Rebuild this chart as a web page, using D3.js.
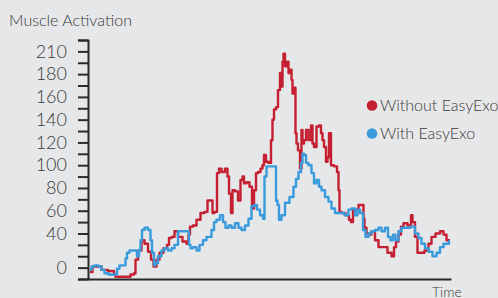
<!DOCTYPE html>
<html>
<head>
<meta charset="utf-8">
<script src="https://cdn.jsdelivr.net/npm/d3@7"></script>
<style>
    html, body { margin: 0; padding: 0; background: #e6e7e9; }
    svg { display: block; font-family: Lato, "Open Sans", sans-serif; font-weight: 300; }
</style>
</head>
<body>
<svg id="chart" width="498" height="298"></svg>
<script>
// Series: time (arbitrary units) and muscle activation
const redTime = [2, 7, 12, 15, 25, 27, 28, 40, 45, 47, 48, 52, 55, 58, 62, 64, 67, 70, 73, 78, 80, 82, 85, 88, 92, 97, 100, 101, 103, 107, 110, 115, 118, 121, 124, 125, 128, 130, 132, 135, 139, 140, 142, 144, 145, 149, 151, 154, 155, 157, 160, 163, 165, 167, 169, 171, 174, 175, 177, 179, 182, 184, 185, 187, 189, 191, 193, 194, 195, 196, 198, 200, 201, 203, 204, 205, 207, 208, 209, 211, 213, 214, 215, 217, 219, 222, 224, 225, 227, 230, 232, 234, 235, 237, 239, 240, 242, 244, 248, 250, 251, 252, 255, 260, 262, 264, 266, 269, 272, 275, 276, 277, 280, 282, 285, 289, 292, 297, 302, 305, 307, 309, 312, 314, 317, 322, 324, 325, 329, 330, 334, 339, 342, 345, 350, 354, 357, 360, 362];
const redValues = [6, 11, 11, 8, 7, 4, 2, 2, 4, 5, 17, 25, 34, 31, 24, 17, 11, 17, 23, 27, 30, 36, 37, 42, 37, 33, 31, 39, 46, 47, 52, 58, 59, 69, 69, 58, 59, 93, 97, 94, 97, 90, 75, 58, 78, 77, 69, 87, 90, 84, 85, 81, 62, 78, 93, 94, 97, 100, 109, 103, 102, 122, 140, 149, 151, 166, 181, 169, 191, 198, 187, 191, 181, 184, 175, 163, 168, 128, 119, 113, 97, 131, 119, 122, 131, 122, 135, 119, 116, 134, 135, 128, 122, 116, 103, 107, 128, 100, 99, 94, 78, 59, 58, 56, 52, 50, 61, 61, 65, 65, 53, 45, 40, 39, 42, 34, 28, 28, 23, 20, 28, 33, 39, 46, 49, 47, 56, 50, 37, 23, 23, 25, 31, 37, 40, 42, 39, 34, 34];

const blueTime = [2, 5, 8, 12, 15, 18, 23, 28, 30, 33, 37, 38, 40, 43, 48, 50, 52, 53, 55, 58, 62, 63, 65, 67, 68, 72, 75, 78, 82, 85, 88, 92, 100, 102, 103, 107, 110, 113, 117, 120, 122, 125, 127, 130, 134, 136, 139, 142, 145, 149, 152, 155, 159, 162, 165, 168, 170, 174, 176, 177, 180, 184, 187, 189, 190, 192, 195, 199, 204, 207, 209, 212, 214, 215, 217, 219, 222, 225, 227, 230, 232, 235, 239, 242, 245, 249, 254, 259, 262, 265, 269, 270, 274, 276, 279, 282, 285, 289, 292, 295, 299, 301, 304, 306, 309, 312, 315, 320, 325, 329, 332, 335, 339, 342, 347, 350, 354, 357, 360, 362];
const blueValues = [8, 11, 12, 11, 8, 5, 4, 4, 9, 12, 12, 18, 23, 25, 25, 20, 25, 34, 43, 45, 43, 34, 23, 12, 14, 20, 25, 27, 25, 27, 30, 42, 42, 30, 27, 28, 25, 30, 34, 37, 37, 43, 50, 52, 56, 50, 45, 47, 45, 49, 45, 43, 47, 53, 64, 65, 61, 56, 53, 90, 99, 99, 99, 69, 65, 52, 56, 67, 72, 81, 88, 94, 102, 110, 109, 102, 100, 93, 84, 87, 81, 78, 72, 68, 62, 58, 58, 56, 61, 62, 56, 61, 58, 43, 37, 40, 42, 43, 45, 42, 45, 37, 34, 39, 34, 42, 45, 45, 46, 40, 36, 31, 27, 24, 20, 23, 28, 31, 31, 33];

// Y axis: a tick every 10 units, labels as printed on the original
const yTickValues = [10, 40, 60, 80, 100, 120, 140, 160, 180, 200];
const yTickLabels = ["0", "40", "60", "80", "100", "120", "140", "160", "180", "210"];

const seriesNames = ["Without EasyExo", "With EasyExo"];
const seriesColors = ["#c42032", "#3a9bdc"];

const svg = d3.select("#chart");

const x = d3.scaleLinear().domain([0, 363]).range([88, 451]);
const y = d3.scaleLinear().domain([0, 210]).range([279, 40]);

const labelMap = new Map(yTickValues.map((v, i) => [v, yTickLabels[i]]));

// Y axis with minor ticks
const yAxis = d3.axisLeft(y)
    .tickValues(d3.range(0, 211, 10))
    .tickSize(10)
    .tickSizeOuter(10)
    .tickPadding(11)
    .tickFormat(d => labelMap.get(d) || "");

const gy = svg.append("g")
    .attr("transform", "translate(88,0)")
    .call(yAxis);
gy.select(".domain").attr("stroke", "#2a2a2a").attr("stroke-width", 2);
gy.selectAll(".tick line").attr("stroke", "#2a2a2a").attr("stroke-width", 2);
gy.selectAll(".tick text")
    .attr("fill", "#3a3a3a")
    .style("font-size", "18px")
    .style("font-family", "Lato, sans-serif")
    .style("font-weight", 300);

// X axis, bare line only
const gx = svg.append("g")
    .attr("transform", "translate(0,279)")
    .call(d3.axisBottom(x).tickValues([]).tickSizeOuter(0));
gx.select(".domain").attr("stroke", "#2a2a2a").attr("stroke-width", 2);

// Lines
const line = d3.line()
    .x(d => x(d[0]))
    .y(d => y(d[1]))
    .curve(d3.curveStep);

const redData = redTime.map((t, i) => [t, redValues[i]]);
const blueData = blueTime.map((t, i) => [t, blueValues[i]]);

svg.append("path")
    .datum(redData)
    .attr("fill", "none")
    .attr("stroke", seriesColors[0])
    .attr("stroke-width", 2.4)
    .attr("stroke-linejoin", "round")
    .attr("d", line);

svg.append("path")
    .datum(blueData)
    .attr("fill", "none")
    .attr("stroke", seriesColors[1])
    .attr("stroke-width", 2.4)
    .attr("stroke-linejoin", "round")
    .attr("d", line);

// Titles
svg.append("text")
    .attr("x", 9)
    .attr("y", 26)
    .attr("fill", "#3a3a3a")
    .style("font-size", "16px")
    .text("Muscle Activation");

svg.append("text")
    .attr("x", 432)
    .attr("y", 297)
    .attr("fill", "#3a3a3a")
    .style("font-size", "14px")
    .text("Time");

// Legend
const legend = svg.append("g");
seriesNames.forEach((name, i) => {
    const ly = 105.5 + i * 28;
    legend.append("circle")
        .attr("cx", 372)
        .attr("cy", ly)
        .attr("r", 5.3)
        .attr("fill", seriesColors[i]);
    legend.append("text")
        .attr("x", 380)
        .attr("y", ly)
        .attr("dy", "0.35em")
        .attr("fill", "#3a3a3a")
        .style("font-size", "16px")
        .text(name);
});
</script>
</body>
</html>
